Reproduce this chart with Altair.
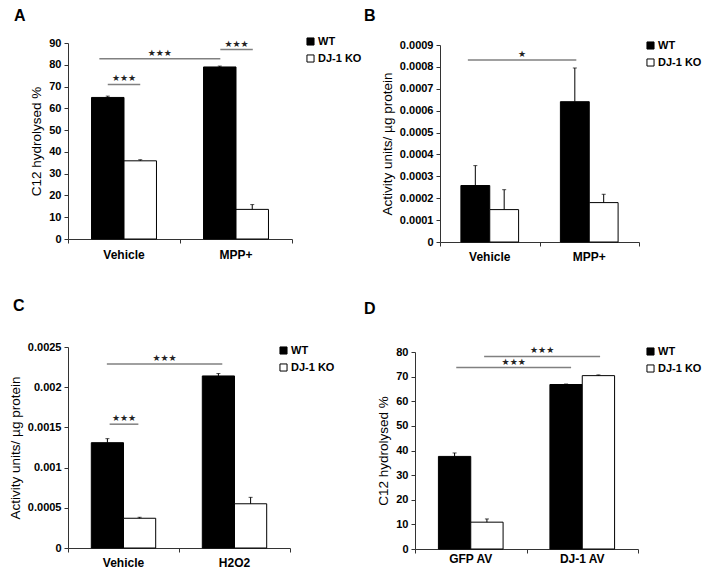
import altair as alt
import pandas as pd

W, H = 697, 562
FONT = "Liberation Sans"
STAR = "\u2605"

series = ["WT", "DJ-1 KO"]

# ---------------- Panel A ----------------
a_groups = ["Vehicle", "MPP+"]
a_wt = [65.0, 79.0]
a_wt_err = [0.6, 0.4]
a_ko = [35.9, 13.6]
a_ko_err = [0.5, 2.2]
a_yticks = [0, 10, 20, 30, 40, 50, 60, 70, 80, 90]
a_sig_from = [0.355, 0.28, 1.36]
a_sig_to = [0.645, 1.36, 1.65]
a_sig_y = [71.0, 82.8, 87.0]
a_sig_text = [STAR * 3, STAR * 3, STAR * 3]

# ---------------- Panel B ----------------
b_groups = ["Vehicle", "MPP+"]
b_wt = [0.000258, 0.000641]
b_wt_err = [0.000091, 0.000154]
b_ko = [0.000148, 0.000180]
b_ko_err = [0.000091, 0.000038]
b_yticks = [0, 0.0001, 0.0002, 0.0003, 0.0004, 0.0005, 0.0006, 0.0007, 0.0008, 0.0009]
b_sig_from = [0.28]
b_sig_to = [1.37]
b_sig_y = [0.000831]
b_sig_text = [STAR]

# ---------------- Panel C ----------------
c_groups = ["Vehicle", "H2O2"]
c_wt = [0.00131, 0.00214]
c_wt_err = [0.00005, 0.00003]
c_ko = [0.00037, 0.00055]
c_ko_err = [0.000012, 0.00008]
c_yticks = [0, 0.0005, 0.001, 0.0015, 0.002, 0.0025]
c_sig_from = [0.375, 0.35]
c_sig_to = [0.634, 1.39]
c_sig_y = [0.00154, 0.00229]
c_sig_text = [STAR * 3, STAR * 3]

# ---------------- Panel D ----------------
d_groups = ["GFP AV", "DJ-1 AV"]
d_wt = [37.6, 66.8]
d_wt_err = [1.4, 0.2]
d_ko = [10.9, 70.4]
d_ko_err = [1.3, 0.3]
d_yticks = [0, 10, 20, 30, 40, 50, 60, 70, 80]
d_sig_from = [0.37, 0.62]
d_sig_to = [1.40, 1.66]
d_sig_y = [73.7, 78.2]
d_sig_text = [STAR * 3, STAR * 3]

BAR_START = 0.21
BAR_W = 0.29


def panel(letter, groups, wt, wt_err, ko, ko_err, yticks, ytitle, fmt,
          sig_from, sig_to, sig_y, sig_text, lay):
    x0, x1, ytop, ybot = lay["x0"], lay["x1"], lay["ytop"], lay["ybot"]
    ymax = yticks[-1]

    rows = []
    for i, g in enumerate(groups):
        for j, (s, vals, errs) in enumerate([(series[0], wt, wt_err), (series[1], ko, ko_err)]):
            left = i + BAR_START + j * BAR_W
            rows.append({
                "group": g, "series": s,
                "xa": left, "xb": left + BAR_W, "xc": left + BAR_W / 2,
                "base": 0.0, "value": vals[i], "top": vals[i] + errs[i],
            })
    bars_df = pd.DataFrame(rows)
    cat_df = pd.DataFrame({"label": groups, "xm": [i + 0.5 for i in range(len(groups))]})
    sig_df = pd.DataFrame({
        "sx1": sig_from, "sx2": sig_to, "sy": sig_y, "txt": sig_text,
        "sxm": [(a + b) / 2 for a, b in zip(sig_from, sig_to)],
    })
    letter_df = pd.DataFrame({"t": [letter]})

    xscale = alt.Scale(domain=[0, 2], range=[x0, x1], nice=False, zero=False)
    yscale = alt.Scale(domain=[0, ymax], range=[ybot, ytop], nice=False, zero=True)
    xaxis = alt.Axis(orient="bottom", offset=ybot - H, values=[0, 1, 2], labels=False,
                     ticks=True, tickSize=4, title=None, grid=False,
                     domainColor="#333333", tickColor="#333333")
    yaxis = alt.Axis(orient="left", offset=-x0, values=yticks, format=fmt,
                     title=ytitle, titleFont=FONT, titleFontWeight="normal",
                     titleFontSize=13.5, titleColor="black", titlePadding=5,
                     labelFont=FONT, labelFontWeight="bold", labelFontSize=11,
                     labelColor="black", labelPadding=3, tickSize=4, grid=False,
                     domainColor="#333333", tickColor="#333333")

    def X(f):
        return alt.X(f, type="quantitative", scale=xscale, axis=xaxis)

    def Y(f):
        return alt.Y(f, type="quantitative", scale=yscale, axis=yaxis)

    bars = alt.Chart(bars_df).mark_bar(stroke="black", strokeWidth=1).encode(
        x=X("xa"), x2="xb", y=Y("base"), y2="value",
        fill=alt.Fill("series:N", scale=alt.Scale(domain=series, range=["black", "white"]),
                      sort=series,
                      legend=alt.Legend(orient="none", legendX=lay["lx"], legendY=lay["ly"],
                                        title=None, symbolType="square", symbolSize=50,
                                        symbolStrokeColor="black", symbolStrokeWidth=1,
                                        labelFont=FONT, labelFontWeight="bold",
                                        labelFontSize=11, labelColor="black",
                                        rowPadding=4, padding=0, labelOffset=2)),
    )
    err = alt.Chart(bars_df).mark_rule(color="black", strokeWidth=1).encode(
        x=X("xc"), y=Y("value"), y2="top")
    cap = alt.Chart(bars_df).mark_tick(color="black", orient="horizontal", size=4,
                                       thickness=1).encode(x=X("xc"), y=Y("top"))
    sig = alt.Chart(sig_df).mark_rule(color="#808080", strokeWidth=1.5).encode(
        x=X("sx1"), x2="sx2", y=Y("sy"))
    stars = alt.Chart(sig_df).mark_text(font="DejaVu Sans", fontSize=9, baseline="bottom",
                                        dy=-1, color="#222222").encode(
        x=X("sxm"), y=Y("sy"), text="txt:N")
    cats = alt.Chart(cat_df).mark_text(font=FONT, fontWeight="bold", fontSize=12,
                                       baseline="middle", color="black").encode(
        x=X("xm"), y=alt.value(ybot + lay["cat_off"]), text="label:N")
    let = alt.Chart(letter_df).mark_text(font=FONT, fontWeight="bold", fontSize=16,
                                         align="left", baseline="top", color="black").encode(
        x=alt.value(lay["tx"]), y=alt.value(lay["ty"]), text="t:N")
    return alt.layer(bars, err, cap, sig, stars, cats, let)


lay_a = dict(x0=60, x1=284, ytop=35, ybot=231, lx=297, ly=28, cat_off=16, tx=6, ty=0)
lay_b = dict(x0=432, x1=631, ytop=37, ybot=234, lx=637, ly=32, cat_off=15, tx=356, ty=0)
lay_c = dict(x0=60, x1=282, ytop=339, ybot=540, lx=270, ly=337, cat_off=15, tx=5, ty=290)
lay_d = dict(x0=407, x1=630, ytop=344, ybot=541, lx=637, ly=338, cat_off=10, tx=356, ty=293)

pa = panel("A", a_groups, a_wt, a_wt_err, a_ko, a_ko_err, a_yticks, "C12 hydrolysed %", "d",
           a_sig_from, a_sig_to, a_sig_y, a_sig_text, lay_a)
pb = panel("B", b_groups, b_wt, b_wt_err, b_ko, b_ko_err, b_yticks,
           "Activity units/ \u00b5g protein", "~f",
           b_sig_from, b_sig_to, b_sig_y, b_sig_text, lay_b)
pc = panel("C", c_groups, c_wt, c_wt_err, c_ko, c_ko_err, c_yticks,
           "Activity units/ \u00b5g protein", "~f",
           c_sig_from, c_sig_to, c_sig_y, c_sig_text, lay_c)
pd_ = panel("D", d_groups, d_wt, d_wt_err, d_ko, d_ko_err, d_yticks, "C12 hydrolysed %", "d",
            d_sig_from, d_sig_to, d_sig_y, d_sig_text, lay_d)

chart = alt.layer(pa, pb, pc, pd_).resolve_scale(
    x="independent", y="independent", fill="independent"
).resolve_axis(x="independent", y="independent").resolve_legend(
    fill="independent"
).properties(
    width=W, height=H, padding=0, autosize=alt.AutoSizeParams(type="none"),
    background="white",
).configure_view(strokeWidth=0)

chart.save("out.html", embed_options={"renderer": "svg", "actions": False})
